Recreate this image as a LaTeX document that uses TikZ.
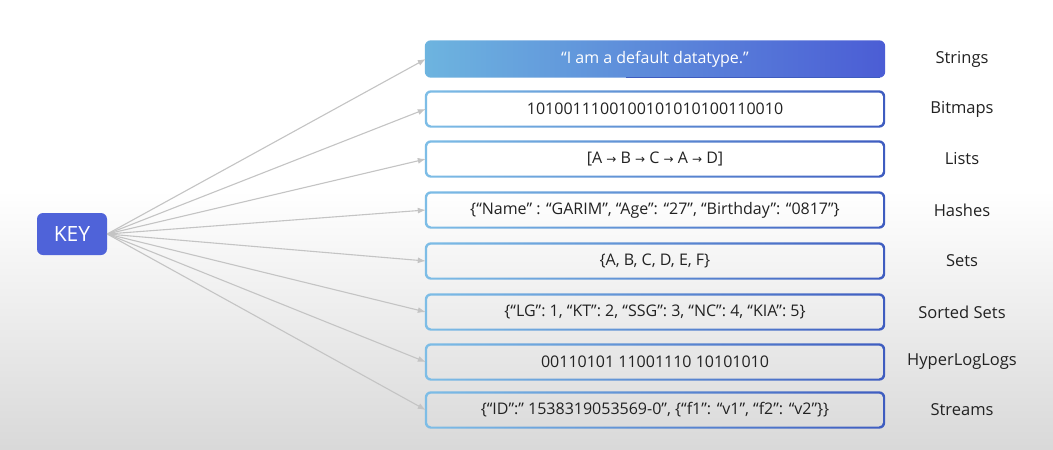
\documentclass[tikz,border=0pt]{standalone}
\usepackage{fontspec}
\setmainfont{Open Sans}
\newfontfamily\symfont{DejaVu Sans}
\usetikzlibrary{arrows.meta,calc}
\definecolor{keyblue}{HTML}{4F63D9}
\definecolor{ringlight}{HTML}{7DBDE6}
\definecolor{ringmid}{HTML}{5E92D6}
\definecolor{ringdark}{HTML}{3E5CC0}
\definecolor{strlight}{HTML}{6DB4DF}
\definecolor{strdark}{HTML}{4B5DD5}
\definecolor{arrowgray}{HTML}{C4C4C4}
\definecolor{txt}{HTML}{222222}
\newcommand{\ra}{{\symfont\fontsize{12}{14}\selectfont →}}
\tikzset{
  databox/.style={minimum width=458pt, minimum height=35pt, inner sep=0pt, font=\fontsize{16}{19}\selectfont, text=txt},
  typelabel/.style={font=\fontsize{16.5}{19}\selectfont, text=txt},
  link/.style={draw=arrowgray, line width=1.1pt, -{Latex[length=8pt,width=6pt]}},
}
\newcommand{\ringbox}[1]{%
  \shade[even odd rule, left color=ringlight, middle color=ringmid, right color=ringdark]
    [rounded corners=6pt] ($(#1.south west)+(-1pt,-1pt)$) rectangle ($(#1.north east)+(1pt,1pt)$)
    [rounded corners=4pt] ($(#1.south west)+(1.2pt,1.2pt)$) rectangle ($(#1.north east)+(-1.2pt,-1.2pt)$);}
\begin{document}
\begin{tikzpicture}[x=1pt,y=-1pt]
\useasboundingbox (0,0) rectangle (1053,450);
\fill[white] (0,0) rectangle (1053,450);
\shade[top color=white, bottom color=black!15] (0,190) rectangle (1053,450);

\node[fill=keyblue, rounded corners=6pt, minimum width=70pt, minimum height=42pt, text=white, font=\fontsize{21}{25}\selectfont] (key) at (72,234) {KEY};

% Strings box (filled)
\node[databox] (b1) at (655,59) {};
\shade[rounded corners=6pt, left color=strlight, right color=strdark] ($(b1.south west)+(-1pt,-1pt)$) rectangle ($(b1.north east)+(1pt,1pt)$);
\draw[ringdark, line width=1pt] ($(b1.south west)+(200pt,-0.5pt)$) -- ($(b1.south east)+(-4pt,-0.5pt)$);
\node[databox, text=white] at (b1) {“I am a default datatype.”};

\node[databox] (b2) at (655,109) {1010011100100101010100110010};
\node[databox] (b3) at (655,159) {[A \ra{} B \ra{} C \ra{} A \ra{} D]};
\node[databox] (b4) at (655,210) {\{“Name” : “GARIM”, “Age”: “27”, “Birthday”: “0817”\}};
\node[databox] (b5) at (655,261) {\{A, B, C, D, E, F\}};
\node[databox] (b6) at (655,312) {\{“LG”: 1, “KT”: 2, “SSG”: 3, “NC”: 4, “KIA”: 5\}};
\node[databox] (b7) at (655,362) {00110101 11001110 10101010};
\node[databox] (b8) at (655,410) {\{“ID”:” 1538319053569-0”, \{“f1”: “v1”, “f2”: “v2”\}\}};
\foreach \b in {b2,b3,b4,b5,b6,b7,b8} {\ringbox{\b}}

\node[typelabel] (l1) at (962,59) {Strings};
\node[typelabel] (l2) at (962,109) {Bitmaps};
\node[typelabel] (l3) at (962,159) {Lists};
\node[typelabel] (l4) at (962,210) {Hashes};
\node[typelabel] (l5) at (962,261) {Sets};
\node[typelabel] (l6) at (962,312) {Sorted Sets};
\node[typelabel] (l7) at (962,362) {HyperLogLogs};
\node[typelabel] (l8) at (962,410) {Streams};

\foreach \b in {b1,b2,b3,b4,b5,b6,b7,b8} {\draw[link] (key.east) -- (\b.west);}
\end{tikzpicture}
\end{document}
